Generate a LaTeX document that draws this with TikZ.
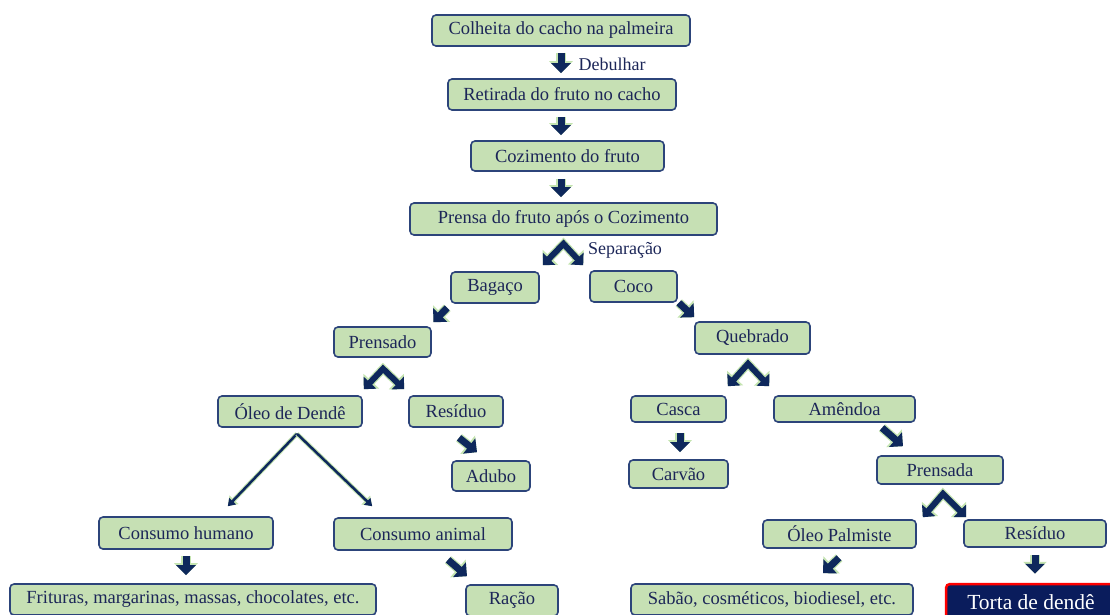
\documentclass[tikz,border=0pt]{standalone}
\usepackage{fontspec}
\setmainfont{Liberation Serif}
\usetikzlibrary{arrows.meta}
\definecolor{verde}{RGB}{198,224,180}
\definecolor{borda}{RGB}{44,68,122}
\definecolor{texto}{RGB}{28,38,88}
\definecolor{seta}{RGB}{14,40,92}
\definecolor{halo}{RGB}{196,228,176}
\definecolor{marinho}{RGB}{10,28,92}
\begin{document}
\begin{tikzpicture}[x=1pt,y=-1pt,
  etapa/.style={draw=borda,fill=verde,rounded corners=4pt,line width=1.6pt,text=texto,
    inner sep=0pt,font=\fontsize{18.5}{20}\selectfont},
  rotulo/.style={text=texto,inner sep=0pt,font=\fontsize{18}{20}\selectfont},
  seta/.style={draw=seta,line width=7pt,-{Triangle[width=19pt,length=10pt]},
    preaction={draw=halo,line width=9.5pt,-{Triangle[width=23pt,length=12pt]}}},
  chapeu/.style={draw=seta,line width=6pt,line join=miter,{Triangle[width=17pt,length=9pt]}-{Triangle[width=17pt,length=9pt]},
    preaction={draw=halo,line width=8.5pt,line join=miter,{Triangle[width=21pt,length=11pt]}-{Triangle[width=21pt,length=11pt]}}},
  fina/.style={draw=seta,line width=2.5pt,-{Triangle[width=9pt,length=7pt]},
    preaction={draw=halo,line width=4.5pt,-{Triangle[width=12pt,length=9pt]}}}]
\useasboundingbox (0,0) rectangle (1110,614);
\clip (0,0) rectangle (1110,614);
% etapas
\node[etapa,minimum width=258pt,minimum height=31pt] (colheita) at (561,30.5) {Colheita do cacho na palmeira};
\node[etapa,minimum width=228pt,minimum height=31pt] (retirada) at (562,94.5) {Retirada do fruto no cacho};
\node[etapa,minimum width=193pt,minimum height=30pt] (cozimento) at (567.5,156) {Cozimento do fruto};
\node[etapa,minimum width=307pt,minimum height=32pt] (prensa) at (563.5,219) {Prensa do fruto após o Cozimento};
\node[etapa,minimum width=88pt,minimum height=31pt] (bagaco) at (495,287.5) {Bagaço};
\node[etapa,minimum width=87pt,minimum height=31pt] (coco) at (633.5,286.5) {Coco};
\node[etapa,minimum width=97pt,minimum height=30pt] (prensado) at (382.5,342) {Prensado};
\node[etapa,minimum width=115pt,minimum height=32pt] (quebrado) at (752.5,338) {Quebrado};
\node[etapa,minimum width=144pt,minimum height=31pt] (oleo) at (290,411.5) {Óleo de Dendê};
\node[etapa,minimum width=94pt,minimum height=31pt] (residuoA) at (456,411.5) {Resíduo};
\node[etapa,minimum width=95pt,minimum height=26pt] (casca) at (678.5,409) {Casca};
\node[etapa,minimum width=141pt,minimum height=26pt] (amendoa) at (844.5,409) {Amêndoa};
\node[etapa,minimum width=78pt,minimum height=30pt] (adubo) at (491,476) {Adubo};
\node[etapa,minimum width=99pt,minimum height=28pt] (carvao) at (678.5,474) {Carvão};
\node[etapa,minimum width=126pt,minimum height=28pt] (prensada) at (940,470) {Prensada};
\node[etapa,minimum width=174pt,minimum height=32pt] (humano) at (186,533) {Consumo humano};
\node[etapa,minimum width=178pt,minimum height=32pt] (animal) at (423,534) {Consumo animal};
\node[etapa,minimum width=153pt,minimum height=28pt] (palmiste) at (839.5,534) {Óleo Palmiste};
\node[etapa,minimum width=142pt,minimum height=27pt] (residuoB) at (1035,533.5) {Resíduo};
\node[etapa,minimum width=366pt,minimum height=31pt] (frituras) at (193,599.5) {Frituras, margarinas, massas, chocolates, etc.};
\node[etapa,minimum width=92pt,minimum height=31pt] (racao) at (512,600.5) {Ração};
\node[etapa,minimum width=282pt,minimum height=31pt] (sabao) at (772,599.5) {Sabão, cosméticos, biodiesel, etc.};
\node[draw=red,fill=marinho,rounded corners=4pt,line width=2.5pt,text=white,inner sep=0pt,
  minimum width=170pt,minimum height=36pt,font=\fontsize{21.5}{23}\selectfont] (torta) at (1031,602) {Torta de dendê};
\node[rotulo] (debulhar) at (612,64) {Debulhar};
\node[rotulo] (separacao) at (625,250) {Separação};
% setas
\draw[seta] ([shift={(0,6)}]colheita.south) -- ([shift={(-1,-5)}]retirada.north);
\draw[seta] ([shift={(-1,6)}]retirada.south) -- ([shift={(-6.5,-5)}]cozimento.north);
\draw[seta] ([shift={(-6.5,7)}]cozimento.south) -- ([shift={(-2.5,-5)}]prensa.north);
\draw[chapeu] ([shift={(3,-6)}]bagaco.north east) -- ([shift={(0,8)}]prensa.south) -- ([shift={(-6,-5)}]coco.north west);
\draw[seta] ([shift={(-3,4)}]bagaco.south west) -- ([shift={(1.5,-4)}]prensado.north east);
\draw[seta] ([shift={(1,0)}]coco.south east) -- ([shift={(0,-4)}]quebrado.north west);
\draw[chapeu] ([shift={(1,-6)}]oleo.north east) -- ([shift={(0.5,11)}]prensado.south) -- ([shift={(-4,-6)}]residuoA.north west);
\draw[seta] ([shift={(3,10)}]residuoA.south) -- ([shift={(-14,-8)}]adubo.north);
\draw[chapeu] ([shift={(1,-9)}]casca.north east) -- ([shift={(-4.5,9)}]quebrado.south) -- ([shift={(-4,-9)}]amendoa.north west);
\draw[seta] ([shift={(1.5,10)}]casca.south) -- ([shift={(1.5,-7)}]carvao.north);
\draw[seta] ([shift={(37.5,5)}]amendoa.south) -- ([shift={(-37,-9)}]prensada.north);
\draw[fina] ([shift={(7,6)}]oleo.south) -- ([shift={(-46,-10)}]humano.north east);
\draw[fina] ([shift={(7,6)}]oleo.south) -- ([shift={(39,-11)}]animal.north west);
\draw[chapeu] ([shift={(6,-2)}]palmiste.north east) -- ([shift={(3,9)}]prensada.south) -- ([shift={(3,-2)}]residuoB.north west);
\draw[seta] ([shift={(0,6)}]humano.south) -- ([shift={(-7,-8)}]frituras.north);
\draw[seta] ([shift={(25,9)}]animal.south) -- ([shift={(-45,-8)}]racao.north);
\draw[seta] ([shift={(-0.5,9)}]palmiste.south) -- ([shift={(51,-10)}]sabao.north);
\draw[seta] ([shift={(0,7)}]residuoB.south) -- ([shift={(4,-9)}]torta.north);
\end{tikzpicture}
\end{document}
